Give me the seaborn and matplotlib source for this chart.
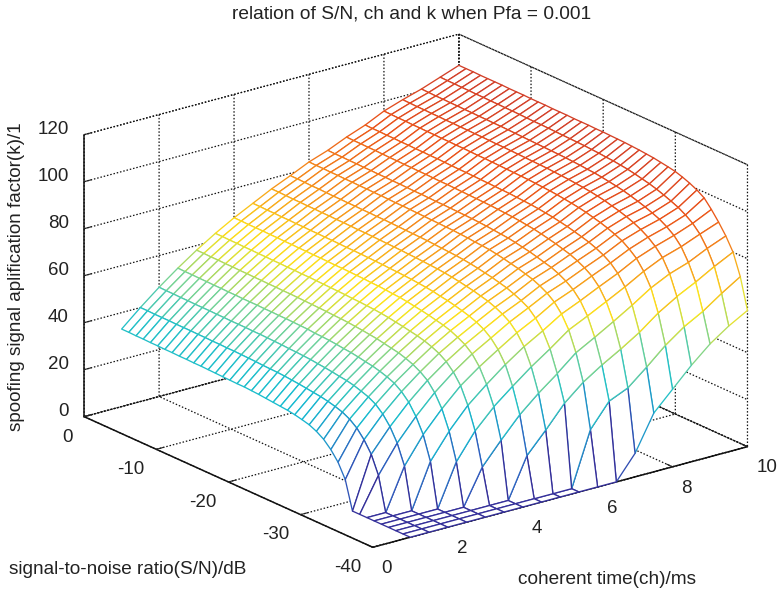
"""k against S/N and coherent time, Pfa = 0.001"""

import matplotlib

matplotlib.use("Agg")
import matplotlib.pyplot as plt
import numpy as np
import seaborn as sns

# coherent time axis of the mesh
ch_ms = [1.0, 1.5, 2.0, 2.5, 3.0, 3.5, 4.0, 4.5, 5.0, 5.5, 6.0, 6.5, 7.0, 7.5, 8.0, 8.5, 9.0, 9.5, 10.0]
# S/N axis of the mesh, one row per dB
snr_db = list(range(-40, 1))

# k, one list per coherent time, S/N from -40 dB up to 0 dB
k_ch_10 = [0, 0, 0, 0, 0, 0, 0, 0, 0, 12, 18, 22, 25, 27, 28.4, 29.2, 29.9, 30.4, 30.7, 31, 31.3, 31.6, 31.8, 32, 32, 32.1, 32.2, 32.3, 32.4, 32.5, 32.5, 32.6, 32.6, 32.7, 32.7, 32.8, 32.8, 32.9, 32.9, 33, 33]
k_ch_15 = [0, 0, 0, 0, 0, 0, 0, 14.4, 22, 26.8, 30.4, 32.8, 34.4, 35.4, 36.2, 36.8, 37.2, 37.6, 38, 38.3, 38.6, 38.8, 38.9, 39, 39.2, 39.3, 39.4, 39.5, 39.5, 39.6, 39.6, 39.7, 39.7, 39.8, 39.8, 39.8, 39.9, 39.9, 39.9, 40, 40]
k_ch_20 = [0, 0, 0, 0, 0, 0, 17.7, 26, 31.6, 35.6, 38.4, 40.1, 41.2, 42.2, 42.9, 43.3, 43.8, 44.2, 44.5, 44.9, 45.1, 45.3, 45.4, 45.6, 45.7, 45.8, 45.9, 45.9, 46, 46, 46, 46.1, 46.1, 46.2, 46.2, 46.2, 46.3, 46.3, 46.4, 46.4, 46.5]
k_ch_25 = [0, 0, 0, 0, 0, 18.9, 28.9, 35.2, 39.9, 43, 45.2, 46.5, 47.5, 48.3, 48.8, 49.4, 49.9, 50.2, 50.6, 50.9, 51.1, 51.2, 51.5, 51.6, 51.7, 51.8, 51.8, 51.9, 51.9, 52, 52, 52, 52.1, 52.1, 52.2, 52.2, 52.3, 52.3, 52.4, 52.4, 52.5]
k_ch_30 = [0, 0, 0, 0, 18, 29.6, 37.7, 43.2, 47, 49.3, 51, 52.2, 53.2, 53.8, 54.4, 55, 55.4, 55.8, 56.1, 56.4, 56.6, 56.7, 56.9, 57, 57.1, 57.2, 57.3, 57.4, 57.4, 57.5, 57.5, 57.6, 57.6, 57.7, 57.7, 57.8, 57.8, 57.9, 57.9, 58, 58]
k_ch_35 = [0, 0, 0, 15, 29, 38.4, 45.4, 49.8, 52.9, 55, 56.4, 57.5, 58.3, 58.9, 59.5, 60, 60.5, 60.9, 61.2, 61.4, 61.6, 61.7, 61.9, 62, 62.1, 62.2, 62.3, 62.4, 62.4, 62.5, 62.5, 62.6, 62.6, 62.7, 62.7, 62.8, 62.8, 62.9, 62.9, 63, 63]
k_ch_40 = [0, 0, 0, 24.3, 37.1, 45.2, 51.3, 55.4, 58, 59.7, 61.1, 62.1, 62.8, 63.5, 64.1, 64.6, 65.1, 65.5, 65.7, 66, 66.2, 66.3, 66.5, 66.6, 66.7, 66.8, 66.8, 66.9, 67, 67, 67.1, 67.1, 67.2, 67.2, 67.3, 67.3, 67.4, 67.4, 67.4, 67.5, 67.5]
k_ch_45 = [0, 0, 17, 33, 43.6, 51.5, 56.5, 60, 62.4, 64, 65.2, 66.1, 66.9, 67.6, 68.1, 68.7, 69.1, 69.4, 69.7, 69.9, 70.1, 70.2, 70.4, 70.5, 70.6, 70.7, 70.8, 70.8, 70.9, 71, 71, 71.1, 71.1, 71.2, 71.2, 71.3, 71.3, 71.4, 71.4, 71.5, 71.5]
k_ch_50 = [0, 0, 25.7, 40, 49.8, 57, 61.5, 64.7, 66.7, 68.2, 69.4, 70.2, 71, 71.6, 72.2, 72.7, 73.1, 73.4, 73.6, 73.8, 74, 74.1, 74.3, 74.4, 74.5, 74.6, 74.7, 74.8, 74.8, 74.9, 75, 75, 75.1, 75.1, 75.2, 75.2, 75.3, 75.3, 75.4, 75.5, 75.5]
k_ch_55 = [0, 0, 35, 46.2, 55.3, 61.6, 65.6, 68.6, 70.3, 71.7, 72.9, 73.7, 74.5, 75.1, 75.7, 76.2, 76.6, 76.9, 77.1, 77.3, 77.5, 77.7, 77.8, 77.9, 78, 78.1, 78.2, 78.3, 78.3, 78.4, 78.4, 78.5, 78.5, 78.6, 78.6, 78.7, 78.8, 78.8, 78.9, 79, 79]
k_ch_60 = [0, 23, 41.8, 52.9, 61.2, 66.6, 70.3, 72.7, 74.4, 75.8, 76.7, 77.6, 78.3, 79, 79.6, 80.1, 80.4, 80.6, 80.9, 81.1, 81.3, 81.4, 81.5, 81.6, 81.7, 81.8, 81.9, 82, 82, 82.1, 82.2, 82.2, 82.3, 82.3, 82.4, 82.4, 82.5, 82.5, 82.6, 82.6, 82.7]
k_ch_65 = [0, 33, 47, 57.3, 65, 70.1, 73.5, 75.7, 77.4, 78.7, 79.5, 80.4, 81.2, 81.8, 82.4, 82.9, 83.2, 83.5, 83.8, 84, 84.2, 84.3, 84.4, 84.5, 84.6, 84.6, 84.7, 84.8, 84.8, 84.9, 85, 85, 85.1, 85.1, 85.2, 85.2, 85.3, 85.3, 85.4, 85.4, 85.5]
k_ch_70 = [10, 36.5, 51.6, 61.9, 69, 73.9, 77.1, 79.2, 80.8, 82.1, 83, 83.9, 84.6, 85.3, 85.9, 86.3, 86.7, 87, 87.2, 87.4, 87.6, 87.7, 87.8, 87.9, 88, 88.1, 88.2, 88.2, 88.3, 88.4, 88.4, 88.5, 88.5, 88.6, 88.6, 88.7, 88.8, 88.8, 88.9, 88.9, 89]
k_ch_75 = [25, 43.2, 56.6, 66.7, 73.1, 77.5, 80.5, 82.5, 84, 85.2, 86.1, 86.9, 87.7, 88.3, 88.9, 89.3, 89.7, 90, 90.2, 90.4, 90.6, 90.7, 90.8, 90.9, 91, 91.1, 91.2, 91.2, 91.3, 91.4, 91.5, 91.5, 91.6, 91.6, 91.7, 91.7, 91.8, 91.8, 91.9, 91.9, 92]
k_ch_80 = [33, 50.3, 62.7, 71.9, 77.6, 81.7, 84.3, 86.4, 87.8, 89, 90, 90.8, 91.6, 92.2, 92.7, 93.1, 93.5, 93.8, 94, 94.2, 94.4, 94.5, 94.6, 94.7, 94.8, 94.9, 95, 95, 95.1, 95.2, 95.2, 95.3, 95.3, 95.4, 95.4, 95.5, 95.5, 95.6, 95.6, 95.7, 95.8]
k_ch_85 = [41, 56.1, 67.5, 75.8, 81.3, 84.7, 87.2, 89.1, 90.6, 91.8, 92.8, 93.6, 94.4, 95, 95.5, 95.9, 96.2, 96.5, 96.7, 96.9, 97.1, 97.2, 97.3, 97.4, 97.5, 97.6, 97.7, 97.7, 97.8, 97.9, 97.9, 98, 98, 98.1, 98.1, 98.2, 98.2, 98.3, 98.3, 98.4, 98.5]
k_ch_90 = [48, 60.5, 71.5, 78.5, 83.8, 87.2, 89.5, 91.3, 92.6, 93.8, 94.8, 95.7, 96.5, 97.1, 97.6, 98.1, 98.5, 98.7, 99, 99.2, 99.4, 99.5, 99.6, 99.7, 99.8, 99.9, 100, 100.1, 100.2, 100.3, 100.3, 100.4, 100.4, 100.5, 100.5, 100.6, 100.6, 100.7, 100.7, 100.8, 100.9]
k_ch_95 = [53.5, 66, 76, 82.3, 87, 90.2, 92.4, 94.2, 95.5, 96.7, 97.8, 98.7, 99.4, 100.1, 100.7, 101.1, 101.5, 101.7, 102, 102.2, 102.4, 102.5, 102.6, 102.7, 102.8, 102.9, 103, 103, 103.1, 103.2, 103.3, 103.3, 103.4, 103.4, 103.5, 103.5, 103.6, 103.6, 103.7, 103.7, 103.8]
k_ch_100 = [58, 71, 80, 85.5, 90, 94, 97.5, 99.5, 101, 102.2, 103.2, 103.8, 104.3, 104.8, 105.1, 105.4, 105.6, 105.8, 105.9, 106, 106.1, 106.1, 106.2, 106.2, 106.2, 106.3, 106.3, 106.3, 106.4, 106.4, 106.4, 106.5, 106.5, 106.5, 106.6, 106.6, 106.6, 106.6, 106.7, 106.7, 106.7]

x_ticks = [0, 2, 4, 6, 8, 10]
y_ticks = [-40, -30, -20, -10, 0]
y_tick_labels = ["-40", "-30", "-20", "-10", "0"]
z_ticks = [0, 20, 40, 60, 80, 100, 120]

title = "relation of S/N, ch and k when Pfa = 0.001"
x_label = "coherent time(ch)/ms"
y_label = "signal-to-noise ratio(S/N)/dB"
z_label = "spoofing signal aplification factor(k)/1"

mesh_colors = ["#35309a", "#2f5fc0", "#15bcd0", "#6fd29a", "#fde51a", "#f6921a", "#ea5218", "#cc3a2c"]

sns.set_style("white")
plt.rcParams["font.family"] = ["Liberation Sans", "DejaVu Sans"]
plt.rcParams["axes.unicode_minus"] = False

k_grid = np.column_stack(
    [
        k_ch_10, k_ch_15, k_ch_20, k_ch_25, k_ch_30, k_ch_35, k_ch_40, k_ch_45, k_ch_50, k_ch_55,
        k_ch_60, k_ch_65, k_ch_70, k_ch_75, k_ch_80, k_ch_85, k_ch_90, k_ch_95, k_ch_100,
    ]
)
ch_grid, snr_grid = np.meshgrid(ch_ms, snr_db)

fig = plt.figure(figsize=(7.79, 5.91), dpi=100)
ax = fig.add_axes([5 / 779, -110.5 / 591, 800 / 779, 800 / 591], projection="3d", proj_type="ortho")
ax.patch.set_alpha(0)
ax.view_init(elev=20.4, azim=-127.6)
ax.set_box_aspect((1, 1, 0.636), zoom=0.89)

# white faces hide what is behind the mesh, the edge colour follows k
surf = ax.plot_surface(ch_grid, snr_grid, k_grid, rstride=1, cstride=1, color="white", shade=False, linewidth=0.95)
cmap = sns.blend_palette(mesh_colors, as_cmap=True)
edge_k = np.minimum(k_grid[1:, :-1], k_grid[:-1, 1:]).ravel()
surf.set_edgecolors(cmap(edge_k / k_grid.max()))
surf.set_facecolor("white")

ax.set_xlim(0, 10, view_margin=0)
ax.set_ylim(-40, 0, view_margin=0)
ax.set_zlim(0, 120, view_margin=0)
ax.set_xticks(x_ticks)
ax.set_yticks(y_ticks)
ax.set_yticklabels(y_tick_labels)
ax.set_zticks(z_ticks)
ax.tick_params(axis="x", labelsize=13.5, pad=1.3, colors="#222222")
ax.tick_params(axis="y", labelsize=13.5, pad=1.3, colors="#222222")
ax.tick_params(axis="z", labelsize=13.5, pad=-1, colors="#222222")
plt.setp(ax.get_xticklabels(), ha="left")
plt.setp(ax.get_yticklabels(), ha="right")
plt.setp(ax.get_zticklabels(), ha="right", va="baseline")

for axis in (ax.xaxis, ax.yaxis, ax.zaxis):
    axis.set_pane_color((1, 1, 1, 1))
    axis.pane.set_edgecolor("#111111")
    axis.pane.set_linestyle((0, (1.2, 1.5)))
    axis.pane.set_linewidth(0.9)
    axis.line.set_color("#111111")
    axis.line.set_linewidth(1.1)
    axis._axinfo["grid"].update(color="#111111", linestyle=(0, (1.2, 1.5)), linewidth=0.9)
    axis._axinfo["tick"].update(inward_factor=0.0, outward_factor=0.25)

ax.grid(True)

fig.text(412 / 779, 1 - 14 / 591, title, ha="center", va="center", fontsize=13.8, color="#222222")
fig.text(607 / 779, 1 - 580 / 591, x_label, ha="center", va="center", fontsize=13.7, color="#222222")
fig.text(127.5 / 779, 1 - 570 / 591, y_label, ha="center", va="center", fontsize=13.7, color="#222222")
fig.text(17 / 779, 1 - 276.5 / 591, z_label, ha="center", va="center", rotation=90, fontsize=13.6, color="#222222")

fig.savefig("out.png", dpi=100)
